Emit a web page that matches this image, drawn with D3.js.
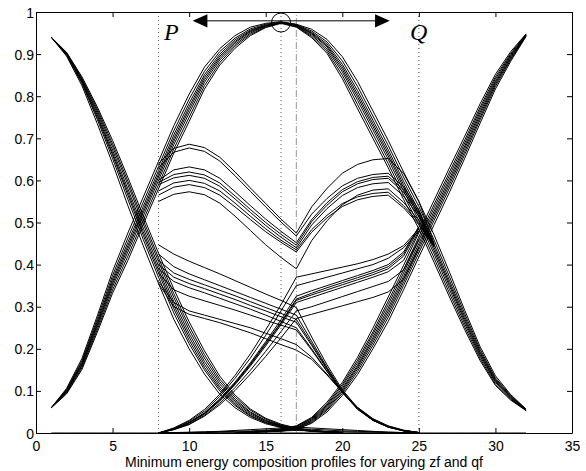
<!DOCTYPE html>
<html><head><meta charset="utf-8">
<script src="https://cdn.jsdelivr.net/npm/d3@7"></script>
<style>body{margin:0;background:#fff}svg{display:block}</style>
</head><body>
<svg id="chart" width="586" height="471"></svg>
<script>
// ---------- DATA ----------
const xTickValues = [0,5,10,15,20,25,30,35];
const xTickLabels = ["0","5","10","15","20","25","30","35"];
const yTickValues = [0,0.1,0.2,0.3,0.4,0.5,0.6,0.7,0.8,0.9,1];
const yTickLabels = ["0","0.1","0.2","0.3","0.4","0.5","0.6","0.7","0.8","0.9","1"];
const xLabel = "Minimum energy composition profiles for varying zf and qf";

const stagesA = [1,2,3,4,5,6,7,8,9,10,11,12,13,14,15,16,17,18,19,20];
const descLeft = [
 [0.94,0.895,0.825,0.735,0.64,0.54,0.445,0.355,0.27,0.2,0.14,0.092,0.06,0.037,0.022,0.013,0.008,0.004,0.002,0.001],
 [0.94,0.897,0.83,0.745,0.652,0.555,0.46,0.37,0.285,0.212,0.15,0.1,0.065,0.04,0.024,0.014,0.008,0.004,0.002,0.001],
 [0.94,0.899,0.833,0.75,0.66,0.565,0.47,0.38,0.295,0.22,0.156,0.105,0.068,0.042,0.025,0.015,0.009,0.005,0.002,0.001],
 [0.94,0.9,0.835,0.755,0.665,0.572,0.478,0.388,0.303,0.228,0.163,0.11,0.072,0.045,0.027,0.016,0.009,0.005,0.003,0.001],
 [0.94,0.901,0.838,0.76,0.672,0.58,0.487,0.397,0.312,0.236,0.17,0.116,0.076,0.048,0.029,0.017,0.01,0.005,0.003,0.001],
 [0.94,0.902,0.84,0.765,0.68,0.59,0.497,0.407,0.322,0.245,0.178,0.122,0.08,0.05,0.03,0.018,0.01,0.006,0.003,0.001],
 [0.94,0.903,0.843,0.77,0.687,0.598,0.506,0.416,0.331,0.254,0.186,0.128,0.085,0.054,0.033,0.019,0.011,0.006,0.003,0.001],
 [0.94,0.904,0.846,0.775,0.695,0.607,0.516,0.427,0.342,0.264,0.195,0.135,0.09,0.057,0.035,0.021,0.012,0.006,0.003,0.001]
];

const stagesB = [1,2,3,4,5,6,7,8,9,10,11,12,13,14,15,16,17,18,19,20,21,22,23,24,25,26,27,28,29,30,31,32];
const arch = [
 [0.06,0.093,0.151,0.239,0.332,0.41,0.495,0.58,0.665,0.74,0.817,0.874,0.914,0.944,0.963,0.973,0.964,0.939,0.902,0.842,0.77,0.70,0.63,0.555,0.485,0.405,0.323,0.245,0.172,0.113,0.078,0.053],
 [0.06,0.095,0.155,0.245,0.34,0.42,0.505,0.59,0.675,0.75,0.825,0.88,0.919,0.947,0.964,0.974,0.965,0.942,0.907,0.85,0.78,0.71,0.64,0.565,0.495,0.415,0.332,0.252,0.177,0.116,0.08,0.054],
 [0.06,0.097,0.159,0.251,0.348,0.43,0.515,0.60,0.685,0.76,0.833,0.886,0.923,0.95,0.966,0.974,0.966,0.945,0.912,0.858,0.79,0.72,0.65,0.575,0.505,0.425,0.341,0.259,0.182,0.12,0.082,0.054],
 [0.06,0.099,0.162,0.256,0.354,0.438,0.523,0.608,0.693,0.768,0.839,0.891,0.927,0.953,0.967,0.975,0.967,0.948,0.917,0.864,0.798,0.728,0.658,0.583,0.513,0.433,0.349,0.265,0.186,0.123,0.084,0.055],
 [0.06,0.10,0.165,0.26,0.36,0.445,0.53,0.615,0.70,0.775,0.845,0.895,0.93,0.955,0.968,0.975,0.968,0.95,0.92,0.87,0.805,0.735,0.665,0.59,0.52,0.44,0.355,0.27,0.19,0.125,0.085,0.055],
 [0.06,0.102,0.168,0.265,0.366,0.453,0.538,0.623,0.708,0.783,0.851,0.90,0.934,0.957,0.969,0.975,0.969,0.952,0.924,0.876,0.813,0.743,0.673,0.598,0.528,0.448,0.362,0.276,0.194,0.128,0.087,0.055],
 [0.06,0.104,0.172,0.271,0.374,0.463,0.548,0.633,0.718,0.793,0.859,0.906,0.938,0.96,0.971,0.976,0.97,0.955,0.929,0.884,0.823,0.753,0.683,0.608,0.538,0.458,0.371,0.283,0.199,0.131,0.089,0.056],
 [0.06,0.106,0.177,0.278,0.384,0.475,0.56,0.645,0.73,0.805,0.869,0.913,0.944,0.964,0.973,0.977,0.971,0.959,0.935,0.894,0.835,0.765,0.695,0.62,0.55,0.47,0.382,0.291,0.205,0.136,0.091,0.057]
];

const stagesC = [13,14,15,16,17,18,19,20,21,22,23,24,25,26,27,28,29,30,31,32];
const ascRight = [
 [0.001,0.002,0.003,0.004,0.009,0.023,0.05,0.089,0.139,0.2,0.265,0.34,0.418,0.495,0.572,0.653,0.736,0.817,0.883,0.942],
 [0.001,0.002,0.003,0.005,0.01,0.025,0.054,0.094,0.146,0.208,0.275,0.35,0.428,0.505,0.582,0.662,0.744,0.823,0.887,0.943],
 [0.001,0.002,0.003,0.006,0.011,0.027,0.057,0.098,0.152,0.215,0.283,0.358,0.436,0.513,0.59,0.669,0.75,0.828,0.89,0.944],
 [0.001,0.002,0.004,0.007,0.012,0.029,0.06,0.102,0.157,0.221,0.29,0.365,0.443,0.52,0.597,0.676,0.756,0.832,0.893,0.945],
 [0.001,0.002,0.004,0.007,0.013,0.031,0.063,0.106,0.161,0.227,0.297,0.372,0.45,0.527,0.604,0.682,0.762,0.836,0.896,0.945],
 [0.001,0.002,0.005,0.008,0.015,0.033,0.066,0.111,0.167,0.234,0.305,0.38,0.458,0.535,0.612,0.689,0.768,0.841,0.899,0.946],
 [0.001,0.002,0.005,0.009,0.016,0.035,0.069,0.115,0.173,0.24,0.313,0.388,0.466,0.543,0.62,0.696,0.774,0.846,0.902,0.947],
 [0.001,0.002,0.005,0.01,0.017,0.037,0.073,0.12,0.18,0.249,0.323,0.398,0.476,0.553,0.63,0.705,0.782,0.852,0.906,0.948]
];

const stagesM = [8,9,10,11,12,13,14,15,16,17,18,19,20,21,22,23,24,25,26];
const mShape = [
 [0.64,0.676,0.686,0.678,0.655,0.62,0.582,0.545,0.508,0.475,0.537,0.581,0.617,0.638,0.649,0.652,0.617,0.55,0.45],
 [0.63,0.667,0.677,0.669,0.646,0.611,0.574,0.537,0.501,0.468,0.52,0.557,0.587,0.605,0.614,0.617,0.585,0.53,0.448],
 [0.60,0.625,0.632,0.625,0.605,0.573,0.54,0.508,0.479,0.452,0.507,0.547,0.578,0.597,0.607,0.61,0.578,0.525,0.446],
 [0.595,0.614,0.62,0.613,0.594,0.563,0.531,0.5,0.472,0.446,0.502,0.541,0.573,0.592,0.602,0.605,0.572,0.52,0.445],
 [0.59,0.606,0.612,0.605,0.586,0.556,0.524,0.493,0.465,0.44,0.494,0.533,0.564,0.583,0.592,0.595,0.563,0.515,0.444],
 [0.575,0.594,0.60,0.593,0.575,0.546,0.515,0.485,0.458,0.435,0.483,0.517,0.545,0.561,0.569,0.572,0.54,0.50,0.443],
 [0.565,0.584,0.59,0.583,0.565,0.537,0.507,0.478,0.453,0.43,0.477,0.511,0.538,0.554,0.562,0.565,0.535,0.495,0.442],
 [0.55,0.567,0.573,0.566,0.546,0.515,0.481,0.447,0.417,0.39,0.457,0.504,0.542,0.565,0.577,0.58,0.548,0.505,0.443]
];

const stagesMid = [8,9,10,11,12,13,14,15,16,17,18,19,20,21,22,23,24,25];
const riseThenFlat = [
 [0,0.012,0.03,0.056,0.092,0.137,0.188,0.245,0.305,0.37,0.378,0.386,0.394,0.402,0.412,0.425,0.445,0.485],
 [0,0.011,0.028,0.052,0.087,0.13,0.178,0.232,0.29,0.35,0.36,0.37,0.38,0.39,0.40,0.415,0.44,0.48],
 [0,0.01,0.025,0.048,0.081,0.121,0.167,0.217,0.269,0.325,0.338,0.35,0.362,0.374,0.386,0.40,0.43,0.49],
 [0,0.01,0.025,0.047,0.079,0.119,0.164,0.213,0.263,0.318,0.332,0.345,0.357,0.369,0.381,0.395,0.425,0.49],
 [0,0.009,0.024,0.046,0.078,0.117,0.162,0.211,0.261,0.315,0.328,0.34,0.352,0.364,0.376,0.39,0.42,0.485],
 [0,0.009,0.023,0.045,0.076,0.115,0.159,0.207,0.257,0.31,0.322,0.334,0.346,0.358,0.37,0.383,0.41,0.48],
 [0,0.008,0.021,0.042,0.071,0.108,0.149,0.194,0.241,0.29,0.30,0.312,0.324,0.336,0.348,0.36,0.387,0.46],
 [0,0.008,0.02,0.04,0.067,0.101,0.14,0.182,0.226,0.272,0.282,0.292,0.302,0.312,0.322,0.335,0.365,0.44]
];
const flatThenFall = [
 [0.447,0.425,0.408,0.393,0.378,0.362,0.346,0.33,0.315,0.298,0.228,0.162,0.103,0.06,0.032,0.015,0.006,0.001],
 [0.425,0.395,0.378,0.364,0.35,0.336,0.322,0.308,0.294,0.28,0.218,0.156,0.1,0.058,0.031,0.015,0.006,0.001],
 [0.41,0.38,0.365,0.352,0.339,0.326,0.312,0.298,0.284,0.27,0.212,0.153,0.098,0.057,0.03,0.014,0.005,0.001],
 [0.40,0.37,0.355,0.343,0.33,0.317,0.303,0.29,0.276,0.263,0.208,0.151,0.097,0.057,0.03,0.014,0.005,0.001],
 [0.39,0.36,0.345,0.333,0.32,0.307,0.294,0.28,0.265,0.25,0.20,0.147,0.096,0.056,0.03,0.014,0.005,0.001],
 [0.38,0.34,0.325,0.314,0.303,0.292,0.28,0.268,0.256,0.245,0.197,0.146,0.097,0.058,0.031,0.015,0.006,0.001],
 [0.36,0.31,0.29,0.28,0.27,0.26,0.25,0.237,0.224,0.21,0.18,0.14,0.097,0.06,0.033,0.016,0.006,0.001],
 [0.355,0.30,0.282,0.272,0.262,0.25,0.238,0.224,0.21,0.197,0.175,0.138,0.097,0.061,0.034,0.017,0.007,0.001]
];
const nearZero = [
 [0,0.001,0.002,0.003,0.004,0.006,0.008,0.01,0.012,0.014,0.012,0.01,0.008,0.006,0.004,0.002,0.001,0],
 [0,0.001,0.001,0.002,0.003,0.004,0.005,0.007,0.008,0.01,0.009,0.007,0.005,0.004,0.003,0.002,0.001,0],
 [0,0,0.001,0.001,0.002,0.002,0.003,0.004,0.005,0.006,0.005,0.004,0.003,0.002,0.002,0.001,0,0]
];
const zeroLine = [0,0,0,0,0,0,0,0,0,0,0,0,0,0,0,0,0,0,0,0,0,0,0,0,0,0,0,0,0,0,0,0];

const dottedStages = [8,16,25];
const dashDotStages = [17];
const circlePoint = [16,0.975];
const arrowFrom = 10.23, arrowTo = 23.1, arrowLevel = 0.979;
const labelP = {text:"P", x:8.36, y:0.934};
const labelQ = {text:"Q", x:24.42, y:0.934};

// ---------- DRAW ----------
const svg = d3.select("#chart");
const W = 586, H = 471;
const m = {left:36, right:14, top:12, bottom:38};
const x = d3.scaleLinear().domain([0,35]).range([m.left, W - m.right]);
const y = d3.scaleLinear().domain([0,1]).range([H - m.bottom, m.top]);

svg.append("rect").attr("width",W).attr("height",H).attr("fill","#fff");

const g = svg.append("g");

// reference vertical lines
g.selectAll("line.dot").data(dottedStages).join("line")
  .attr("x1",d=>x(d)).attr("x2",d=>x(d)).attr("y1",y(0)).attr("y2",y(1))
  .attr("stroke","#555").attr("stroke-width",1).attr("stroke-dasharray","1,3");
g.selectAll("line.dd").data(dashDotStages).join("line")
  .attr("x1",d=>x(d)).attr("x2",d=>x(d)).attr("y1",y(0)).attr("y2",y(1))
  .attr("stroke","#999").attr("stroke-width",1).attr("stroke-dasharray","7,2,1,2");

const line = d3.line().x(d=>x(d[0])).y(d=>y(d[1]));
function drawFamily(stages, fam){
  g.append("g").selectAll("path").data(fam).join("path")
    .attr("d", vals => line(vals.map((v,i)=>[stages[i], v])))
    .attr("fill","none").attr("stroke","#000").attr("stroke-width",1)
    .attr("stroke-linejoin","round");
}
drawFamily(stagesB, [zeroLine]);
drawFamily(stagesMid, nearZero);
drawFamily(stagesA, descLeft);
drawFamily(stagesB, arch);
drawFamily(stagesC, ascRight);
drawFamily(stagesM, mShape);
drawFamily(stagesMid, riseThenFlat);
drawFamily(stagesMid, flatThenFall);

// axes
const fontSans = "'Liberation Sans', Arial, Helvetica, sans-serif";
const ax = d3.axisBottom(x).tickValues(xTickValues).tickFormat((d,i)=>xTickLabels[i]).tickSizeInner(-5).tickSizeOuter(0).tickPadding(8);
const ay = d3.axisLeft(y).tickValues(yTickValues).tickFormat((d,i)=>yTickLabels[i]).tickSizeInner(-5).tickSizeOuter(0).tickPadding(2);
const axT = d3.axisTop(x).tickValues(xTickValues).tickFormat("").tickSizeInner(-5).tickSizeOuter(0);
const ayR = d3.axisRight(y).tickValues(yTickValues).tickFormat("").tickSizeInner(-5).tickSizeOuter(0);

function styleAxis(sel){
  sel.selectAll("path").attr("stroke","#000");
  sel.selectAll("line").attr("stroke","#000");
  sel.selectAll("text").attr("fill","#000").style("font-family",fontSans).style("font-size","14px");
}
svg.append("g").attr("transform",`translate(0,${y(0)})`).call(ax).call(styleAxis);
svg.append("g").attr("transform",`translate(${x(0)},0)`).call(ay).call(styleAxis)
  .selectAll("text").attr("dy","0.36em");
svg.append("g").attr("transform",`translate(0,${y(1)})`).call(axT).call(styleAxis);
svg.append("g").attr("transform",`translate(${x(35)},0)`).call(ayR).call(styleAxis);

// annotations
svg.append("circle").attr("cx",x(circlePoint[0])).attr("cy",y(circlePoint[1])).attr("r",9.5)
  .attr("fill","none").attr("stroke","#000").attr("stroke-width",1);
const ay0 = y(arrowLevel), xa = x(arrowFrom), xb = x(arrowTo);
svg.append("line").attr("x1",xa+10).attr("x2",xb-10).attr("y1",ay0).attr("y2",ay0)
  .attr("stroke","#000").attr("stroke-width",1);
svg.append("path").attr("d",`M${xa},${ay0}L${xa+14.7},${ay0-6.7}L${xa+14.7},${ay0+6.7}Z`).attr("fill","#000");
svg.append("path").attr("d",`M${xb},${ay0}L${xb-14.7},${ay0-6.7}L${xb-14.7},${ay0+6.7}Z`).attr("fill","#000");

const fontSerif = "'Liberation Serif', 'Times New Roman', serif";
[labelP,labelQ].forEach(l=>{
  svg.append("text").attr("x",x(l.x)).attr("y",y(l.y)).text(l.text)
    .style("font-family",fontSerif).style("font-style","italic").style("font-size","24px").attr("fill","#000");
});

svg.append("text").attr("x",(x(0)+x(35))/2).attr("y",467).attr("text-anchor","middle")
  .style("font-family",fontSans).style("font-size","14px").attr("fill","#000").text(xLabel);
</script>
</body></html>
